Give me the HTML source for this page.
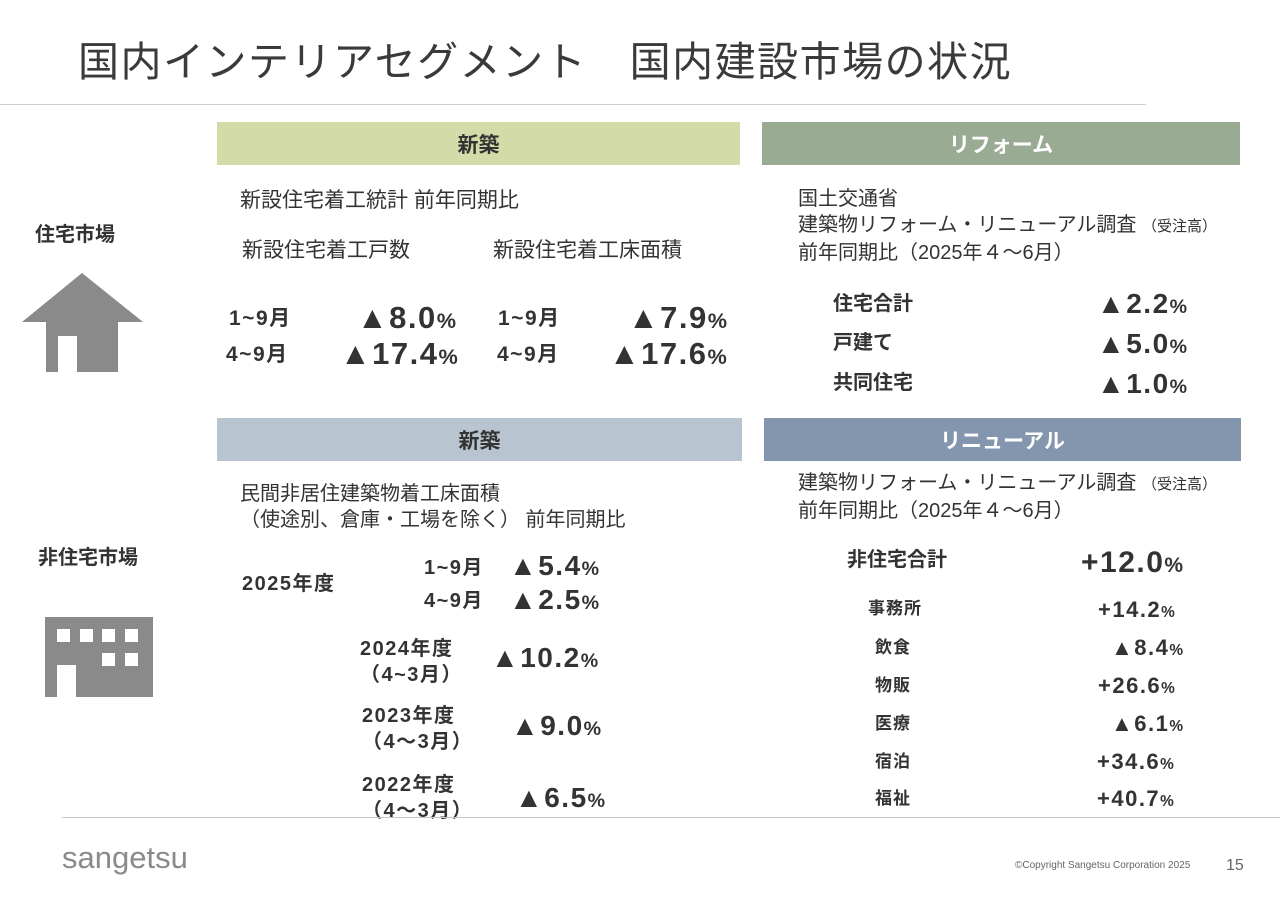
<!DOCTYPE html>
<html><head><meta charset="utf-8"><style>
body{margin:0;width:1280px;height:904px;background:#fff;position:relative;overflow:hidden;font-family:"Liberation Sans","Noto Sans CJK JP",sans-serif;color:#333}
.a{position:absolute;white-space:nowrap;line-height:1}
.b{font-weight:bold}
.n{letter-spacing:1.5px}
.bar{position:absolute;display:flex;align-items:center;justify-content:center;font-weight:bold;font-size:21px}
.p{font-size:0.7em}
</style></head><body>
<div class="a" style="left:78px;top:42px;font-size:41px;letter-spacing:1.5px;color:#3a3a3a">国内インテリアセグメント　国内建設市場の状況</div>
<div style="position:absolute;left:0;top:104px;width:1146px;height:1px;background:#d0d0d0"></div>

<div class="bar" style="left:217px;top:122px;width:523px;height:43px;background:#d3dba8;color:#333">新築</div>
<div class="bar" style="left:762px;top:122px;width:478px;height:43px;background:#9aab94;color:#fff">リフォーム</div>
<div class="bar" style="left:217px;top:418px;width:525px;height:43px;background:#b8c4d0;color:#333">新築</div>
<div class="bar" style="left:764px;top:418px;width:477px;height:43px;background:#8396ae;color:#fff">リニューアル</div>

<div class="a b" style="left:35px;top:225px;font-size:20px">住宅市場</div>
<svg style="position:absolute;left:0;top:0" width="200" height="400"><polygon points="22,322 82,273 143,322" fill="#8a8a8a"/><rect x="46" y="321" width="72" height="51" fill="#8a8a8a"/><rect x="58" y="336" width="19" height="36" fill="#fff"/></svg>
<div class="a b" style="left:38px;top:548px;font-size:20px">非住宅市場</div>
<svg style="position:absolute;left:0;top:600px" width="200" height="110"><rect x="45" y="17" width="108" height="80" fill="#8a8a8a"/><g fill="#fff"><rect x="57" y="29" width="13" height="13"/><rect x="80" y="29" width="13" height="13"/><rect x="102" y="29" width="13" height="13"/><rect x="125" y="29" width="13" height="13"/><rect x="102" y="53" width="13" height="13"/><rect x="125" y="53" width="13" height="13"/><rect x="57" y="65" width="19" height="32"/></g></svg>

<div class="a" style="left:240px;top:190px;font-size:21px">新設住宅着工統計 前年同期比</div>
<div class="a" style="left:242px;top:240px;font-size:21px">新設住宅着工戸数</div>
<div class="a" style="left:493px;top:240px;font-size:21px">新設住宅着工床面積</div>
<div class="a b n" style="left:229px;top:308px;font-size:21px">1~9月</div>
<div class="a b n" style="left:357px;top:302px;font-size:31px">▲8.0<span class="p">%</span></div>
<div class="a b n" style="left:226px;top:344px;font-size:21px">4~9月</div>
<div class="a b n" style="left:340px;top:338px;font-size:31px">▲17.4<span class="p">%</span></div>
<div class="a b n" style="left:498px;top:308px;font-size:21px">1~9月</div>
<div class="a b n" style="left:628px;top:302px;font-size:31px">▲7.9<span class="p">%</span></div>
<div class="a b n" style="left:497px;top:344px;font-size:21px">4~9月</div>
<div class="a b n" style="left:609px;top:338px;font-size:31px">▲17.6<span class="p">%</span></div>

<div class="a" style="left:798px;top:186px;font-size:20px;line-height:26px">国土交通省<br>建築物リフォーム・リニューアル調査 <span style="font-size:15px">（受注高）</span><br>前年同期比（2025年４～6月）</div>
<div class="a b" style="left:833px;top:294px;font-size:20px">住宅合計</div>
<div class="a b n" style="left:1097px;top:290px;font-size:28px">▲2.2<span class="p">%</span></div>
<div class="a b" style="left:833px;top:333px;font-size:20px">戸建て</div>
<div class="a b n" style="left:1097px;top:330px;font-size:28px">▲5.0<span class="p">%</span></div>
<div class="a b" style="left:833px;top:373px;font-size:20px">共同住宅</div>
<div class="a b n" style="left:1097px;top:370px;font-size:28px">▲1.0<span class="p">%</span></div>

<div class="a" style="left:240px;top:481px;font-size:20px;line-height:26px">民間非居住建築物着工床面積<br>（使途別、倉庫・工場を除く） 前年同期比</div>
<div class="a b n" style="left:242px;top:574px;font-size:20px">2025年度</div>
<div class="a b n" style="left:424px;top:558px;font-size:20px">1~9月</div>
<div class="a b n" style="left:509px;top:552px;font-size:28px">▲5.4<span class="p">%</span></div>
<div class="a b n" style="left:424px;top:591px;font-size:20px">4~9月</div>
<div class="a b n" style="left:509px;top:586px;font-size:28px">▲2.5<span class="p">%</span></div>
<div class="a b n" style="left:360px;top:636px;font-size:20px;line-height:26px">2024年度<br>（4~3月）</div>
<div class="a b n" style="left:491px;top:644px;font-size:28px">▲10.2<span class="p">%</span></div>
<div class="a b n" style="left:362px;top:703px;font-size:20px;line-height:26px">2023年度<br>（4～3月）</div>
<div class="a b n" style="left:511px;top:712px;font-size:28px">▲9.0<span class="p">%</span></div>
<div class="a b n" style="left:362px;top:772px;font-size:20px;line-height:26px">2022年度<br>（4～3月）</div>
<div class="a b n" style="left:515px;top:784px;font-size:28px">▲6.5<span class="p">%</span></div>

<div class="a" style="left:798px;top:470px;font-size:20px;line-height:26px">建築物リフォーム・リニューアル調査 <span style="font-size:15px">（受注高）</span><br>前年同期比（2025年４～6月）</div>
<div class="a b" style="left:847px;top:550px;font-size:20px">非住宅合計</div>
<div class="a b n" style="left:1081px;top:548px;font-size:30px">+12.0<span class="p">%</span></div>
<div class="a b" style="left:868px;top:600px;font-size:17px;letter-spacing:1px">事務所</div>
<div class="a b n" style="left:1098px;top:599px;font-size:22px">+14.2<span class="p">%</span></div>
<div class="a b" style="left:875px;top:639px;font-size:17px;letter-spacing:1px">飲食</div>
<div class="a b n" style="left:1111px;top:637px;font-size:22px">▲8.4<span class="p">%</span></div>
<div class="a b" style="left:875px;top:677px;font-size:17px;letter-spacing:1px">物販</div>
<div class="a b n" style="left:1098px;top:675px;font-size:22px">+26.6<span class="p">%</span></div>
<div class="a b" style="left:875px;top:715px;font-size:17px;letter-spacing:1px">医療</div>
<div class="a b n" style="left:1111px;top:713px;font-size:22px">▲6.1<span class="p">%</span></div>
<div class="a b" style="left:875px;top:753px;font-size:17px;letter-spacing:1px">宿泊</div>
<div class="a b n" style="left:1097px;top:751px;font-size:22px">+34.6<span class="p">%</span></div>
<div class="a b" style="left:875px;top:790px;font-size:17px;letter-spacing:1px">福祉</div>
<div class="a b n" style="left:1097px;top:788px;font-size:22px">+40.7<span class="p">%</span></div>

<div style="position:absolute;left:62px;top:817px;width:1218px;height:1px;background:#c8c8c8"></div>
<div class="a" style="left:62px;top:842px;font-size:31px;color:#8a8a8a">sangetsu</div>
<div class="a" style="left:1015px;top:861px;font-size:10px;color:#666">©Copyright Sangetsu Corporation 2025</div>
<div class="a" style="left:1226px;top:858px;font-size:16px;color:#666">15</div>
</body></html>
